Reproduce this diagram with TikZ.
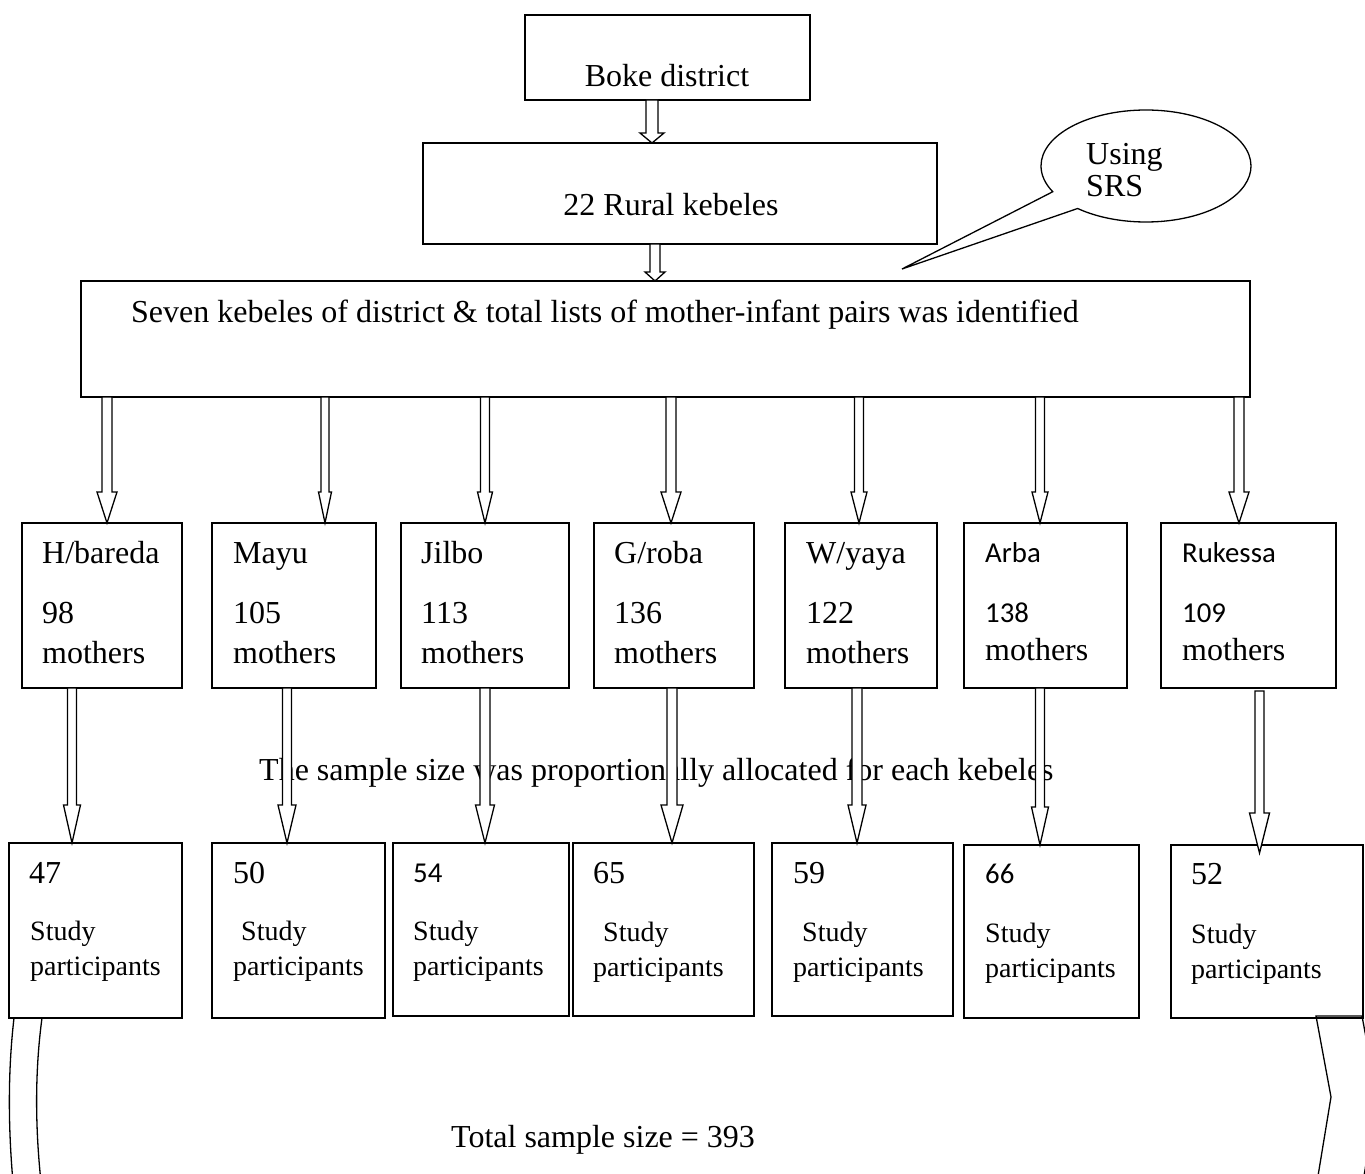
\documentclass[tikz,border=0pt]{standalone}
\usepackage{fontspec}
\setmainfont{Liberation Serif}
\newfontfamily\calibrifont{Carlito}
\usetikzlibrary{calc,shapes.callouts}
\newcommand{\blockarr}[6]{%
  \draw[blockarrow] let \p1=#1, \p2=#2, \p3=(#3,0) in
    (\x3-#4pt,\y1) -- (\x3-#4pt,\y2+#6pt) -- (\x3-#5pt,\y2+#6pt) -- (\x3,\y2)
    -- (\x3+#5pt,\y2+#6pt) -- (\x3+#4pt,\y2+#6pt) -- (\x3+#4pt,\y1) -- cycle;}
\begin{document}
\begin{tikzpicture}[x=1pt,y=-1pt,
  box/.style={draw, line width=1.3pt, inner sep=0pt, outer sep=0pt, anchor=north west},
  txt/.style={inner sep=0pt, anchor=base west, font=\fontsize{32pt}{38pt}\selectfont},
  stxt/.style={inner sep=0pt, anchor=base west, font=\fontsize{28pt}{34pt}\selectfont},
  ctxt/.style={inner sep=0pt, anchor=base west, font=\fontsize{28.8pt}{34pt}\selectfont\calibrifont},
  blockarrow/.style={draw, fill=white, line width=1.3pt, line join=miter},
  bracket/.style={draw, line width=1.3pt}
]
\useasboundingbox (0,0) rectangle (1365,1174);

% top boxes
\node[box, minimum width=285pt, minimum height=85pt] (boke) at (525,15) {};
\node[box, minimum width=514pt, minimum height=101pt] (rural) at (423,143) {};
\node[box, minimum width=1169pt, minimum height=116pt] (seven) at (81,281) {};
\node[txt, anchor=base] (tboke) at (667,87) {Boke district};
\node[txt, anchor=base] (trural) at (671,216) {22 Rural kebeles};
\node[txt] (tseven) at (131,322) {Seven kebeles of district \& total lists of mother-infant pairs was identified};

% callout
\node[ellipse callout, draw, line width=1.3pt, fill=white, minimum width=210pt, minimum height=112pt,
      inner sep=0pt, callout absolute pointer={(902,269)}, callout pointer arc=22] (srs) at (1146,166) {};
\node[txt] (tusing) at (1086,165) {Using};
\node[txt] (tsrs) at (1086,197) {SRS};

% middle boxes
\node[box, minimum width=160pt, minimum height=165pt] (m1) at (22,523) {};
\node[box, minimum width=164pt, minimum height=165pt] (m2) at (212,523) {};
\node[box, minimum width=168pt, minimum height=165pt] (m3) at (401,523) {};
\node[box, minimum width=160pt, minimum height=165pt] (m4) at (594,523) {};
\node[box, minimum width=152pt, minimum height=165pt] (m5) at (785,523) {};
\node[box, minimum width=163pt, minimum height=165pt] (m6) at (964,523) {};
\node[box, minimum width=175pt, minimum height=165pt] (m7) at (1161,523) {};

\node[txt] (n1) at (42,563) {H/bareda};
\node[txt] (c1) at (42,623) {98};
\node[txt] (w1) at (42,663) {mothers};
\node[txt] (n2) at (233,563) {Mayu};
\node[txt] (c2) at (233,623) {105};
\node[txt] (w2) at (233,663) {mothers};
\node[txt] (n3) at (421,563) {Jilbo};
\node[txt] (c3) at (421,623) {113};
\node[txt] (w3) at (421,663) {mothers};
\node[txt] (n4) at (614,563) {G/roba};
\node[txt] (c4) at (614,623) {136};
\node[txt] (w4) at (614,663) {mothers};
\node[txt] (n5) at (806,563) {W/yaya};
\node[txt] (c5) at (806,623) {122};
\node[txt] (w5) at (806,663) {mothers};
\node[ctxt] (n6) at (985,562) {Arba};
\node[ctxt] (c6) at (985,622) {138};
\node[txt] (w6) at (985,660) {mothers};
\node[ctxt] (n7) at (1182,562) {Rukessa};
\node[ctxt] (c7) at (1182,622) {109};
\node[txt] (w7) at (1182,660) {mothers};

% bottom boxes
\node[box, minimum width=173pt, minimum height=175pt] (b1) at (9,843) {};
\node[box, minimum width=173pt, minimum height=175pt] (b2) at (212,843) {};
\node[box, minimum width=176pt, minimum height=173pt] (b3) at (393,843) {};
\node[box, minimum width=181pt, minimum height=173pt] (b4) at (573,843) {};
\node[box, minimum width=181pt, minimum height=173pt] (b5) at (772,843) {};
\node[box, minimum width=175pt, minimum height=173pt] (b6) at (964,845) {};
\node[box, minimum width=192pt, minimum height=173pt] (b7) at (1171,845) {};

\node[txt] (s1) at (29,883) {47};
\node[stxt] (st1) at (30,940) {Study};
\node[stxt] (p1) at (30,975) {participants};
\node[txt] (s2) at (233,883) {50};
\node[stxt] (st2) at (241,940) {Study};
\node[stxt] (p2) at (233,975) {participants};
\node[ctxt] (s3) at (413,882) {54};
\node[stxt] (st3) at (413,940) {Study};
\node[stxt] (p3) at (413,975) {participants};
\node[txt] (s4) at (593,883) {65};
\node[stxt] (st4) at (603,941) {Study};
\node[stxt] (p4) at (593,976) {participants};
\node[txt] (s5) at (793,883) {59};
\node[stxt] (st5) at (802,941) {Study};
\node[stxt] (p5) at (793,976) {participants};
\node[ctxt] (s6) at (985,883) {66};
\node[stxt] (st6) at (985,942) {Study};
\node[stxt] (p6) at (985,977) {participants};
\node[txt] (s7) at (1191,884) {52};
\node[stxt] (st7) at (1191,943) {Study};
\node[stxt] (p7) at (1191,978) {participants};

% middle sentence (partly hidden by arrows)
\node[txt] (alloc) at (259,780) {The sample size was proportionally allocated for each kebeles};

% block arrows
\blockarr{(boke.south)}{(rural.north)}{652}{6}{12}{10}
\blockarr{(rural.south)}{(seven.north)}{655}{5}{10}{9}

\blockarr{(seven.south -| m1.north)}{(m1.north)}{107}{5}{10}{31}
\blockarr{(seven.south -| m2.north)}{(m2.north)}{325}{4}{6.5}{31}
\blockarr{(seven.south -| m3.north)}{(m3.north)}{485}{4.5}{7.5}{31}
\blockarr{(seven.south -| m4.north)}{(m4.north)}{671}{5}{10}{31}
\blockarr{(seven.south -| m5.north)}{(m5.north)}{859}{4.5}{8}{31}
\blockarr{(seven.south -| m6.north)}{(m6.north)}{1040}{4.5}{8}{31}
\blockarr{(seven.south -| m7.north)}{(m7.north)}{1239}{5}{10}{31}

\blockarr{(m1.south)}{(b1.north)}{72}{4.5}{8.5}{38}
\blockarr{(m2.south)}{(b2.north)}{287}{4.5}{9}{38}
\blockarr{(m3.south)}{(b3.north)}{485}{5}{9.5}{38}
\blockarr{(m4.south)}{(b4.north)}{672}{5}{11}{38}
\blockarr{(m5.south)}{(b5.north)}{857}{5}{9}{38}
\blockarr{(m6.south)}{(b6.north)}{1040}{4.5}{8.5}{38}
\blockarr{([yshift=-3pt]m7.south)}{([yshift=-8pt]b7.north)}{1259.5}{4.5}{10}{40}

% total
\node[inner sep=0pt, anchor=base west, font=\fontsize{32pt}{38pt}\selectfont] (total) at (451,1147) {Total sample size = 393};

% brackets at the bottom
\draw[bracket] (14,1018) .. controls (8,1070) and (8,1125) .. (13,1182);
\draw[bracket] (42,1018) .. controls (35,1070) and (35,1125) .. (41,1182);
\draw[bracket] (1362,1016) -- (1316,1016) -- (1331,1097) -- (1317,1182);
\draw[bracket] (1362,1016) -- (1377,1097) -- (1363,1182);
\end{tikzpicture}
\end{document}
